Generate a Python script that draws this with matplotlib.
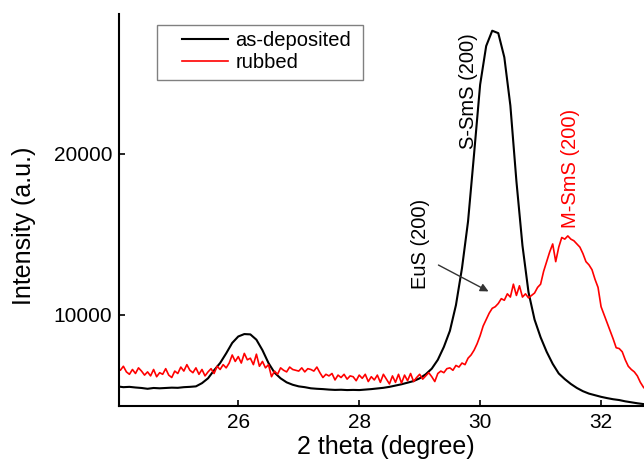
import numpy as np
import matplotlib
matplotlib.use('Agg')
import matplotlib.pyplot as plt
from matplotlib.patches import Rectangle

plt.rcParams['font.family'] = ['Liberation Sans', 'DejaVu Sans']

# scan grids (2 theta, degree)
theta_black = np.round(np.arange(24.0, 32.75, 0.1), 2)
theta_red = np.round(np.arange(24.0, 32.76, 0.05), 2)

# as-deposited, every 0.1 degree
as_deposited = [
    5550, 5500, 5520, 5480, 5450, 5400, 5450, 5430, 5450, 5470,
    5460, 5500, 5520, 5550, 5750, 6050, 6550, 7000, 7600, 8250,
    8650, 8800, 8780, 8450, 7800, 7000, 6400, 6050, 5800, 5650,
    5550, 5500, 5430, 5400, 5380, 5350, 5330, 5340, 5320, 5330,
    5320, 5350, 5380, 5420, 5460, 5520, 5600, 5680, 5780, 5880,
    6050, 6300, 6650, 7200, 8000, 9000, 10600, 12900, 15800, 20000,
    24300, 26700, 27650, 27500, 26000, 23000, 18300, 14300, 11400, 9700,
    8600, 7700, 6950, 6350, 6000, 5700, 5450, 5250, 5100, 5000,
    4900, 4820, 4750, 4700, 4620, 4560, 4500, 4450,
]

# rubbed, every 0.05 degree
rubbed = [
    6700, 6550, 6800, 6450, 6300, 6600, 6350, 6700, 6500, 6250,
    6450, 6200, 6600, 6150, 6400, 6300, 6650, 6250, 6100, 6500,
    6350, 6750, 6500, 6900, 6550, 6400, 6700, 6300, 6600, 6200,
    6450, 6650, 6350, 6800, 6600, 6900, 6700, 7000, 7500, 7100,
    7400, 7000, 7600, 7200, 7300, 6900, 7550, 6800, 7100, 6700,
    6900, 6150, 6500, 6300, 6700, 6550, 6450, 6750, 6600, 6550,
    6500, 6700, 6450, 6650, 6600, 6500, 6750, 6400, 6100, 6300,
    6200, 6350, 5950, 6250, 6100, 6300, 6000, 6200, 6150, 5900,
    6250, 6050, 6300, 5850, 6150, 5950, 6250, 5800, 6300, 6000,
    5700, 6200, 5800, 6300, 5750, 6250, 5900, 6350, 5850, 6100,
    6300, 6000, 6200, 6400, 6150, 5850, 6350, 6500, 6400, 6650,
    6700, 6550, 6850, 6750, 7000, 6900, 7300, 7500, 7800, 8200,
    8700, 9300, 9700, 10100, 10400, 10500, 10700, 11000, 10900, 11300,
    11100, 11900, 11200, 11800, 11100, 11300, 11050, 11200, 11350, 11700,
    11900, 12700, 13300, 13900, 14400, 13300, 14200, 14800, 14700, 14900,
    14700, 14600, 14400, 14200, 13800, 13300, 13100, 12800, 12200, 11700,
    10500, 10000, 9500, 9000, 8500, 7950, 7900, 7700, 7200, 6800,
    6600, 6450, 6200, 5800, 5500, 5300,
]

x_ticks = [26, 28, 30, 32]
y_ticks = [10000, 20000]

fig = plt.figure(figsize=(6.44, 4.61), dpi=100)
ax = fig.add_axes([0.185, 0.12, 0.815, 0.85])

ax.plot(theta_black, as_deposited, color='black', lw=1.5, label='as-deposited')
ax.plot(theta_red, rubbed, color='#ff0000', lw=1.2, label='rubbed')

ax.set_xlim(24.03, 32.71)
ax.set_ylim(4350, 28700)
ax.set_xticks(x_ticks)
ax.set_yticks(y_ticks)
ax.tick_params(direction='in', length=4.5, width=1.2, labelsize=15, pad=5)

for side in ['top', 'right']:
    ax.spines[side].set_visible(False)
for side in ['left', 'bottom']:
    ax.spines[side].set_linewidth(1.5)

ax.set_xlabel('2 theta (degree)', fontsize=18)
ax.set_ylabel('Intensity (a.u.)', fontsize=18)
ax.xaxis.set_label_coords(0.509, -0.076)
ax.yaxis.set_label_coords(-0.158, 0.46)

# peak labels
ax.text(29.80, 23900, 'S-SmS (200)', rotation=90, ha='center', va='center',
        fontsize=14.5, color='black')
ax.text(31.49, 19070, 'M-SmS (200)', rotation=90, ha='center', va='center',
        fontsize=14.5, color='#ff0000')
ax.text(29.01, 14410, 'EuS (200)', rotation=90, ha='center', va='center',
        fontsize=14.5, color='black')
ax.annotate('', xy=(30.18, 11370), xytext=(29.27, 13170),
            arrowprops=dict(arrowstyle='-|>', color='#333333', lw=1,
                            mutation_scale=12))

# legend with its own box
ax.legend(loc='upper left', bbox_to_anchor=(0.12, 0.957), frameon=False,
          fontsize=14.5, handlelength=2.3, handletextpad=0.35,
          labelspacing=0.15, borderpad=0, borderaxespad=0)
ax.add_patch(Rectangle((0.0724, 0.832), 0.392, 0.140, transform=ax.transAxes,
                       fill=False, edgecolor='#808080', lw=1, clip_on=False))

fig.savefig('out.png', dpi=100)
